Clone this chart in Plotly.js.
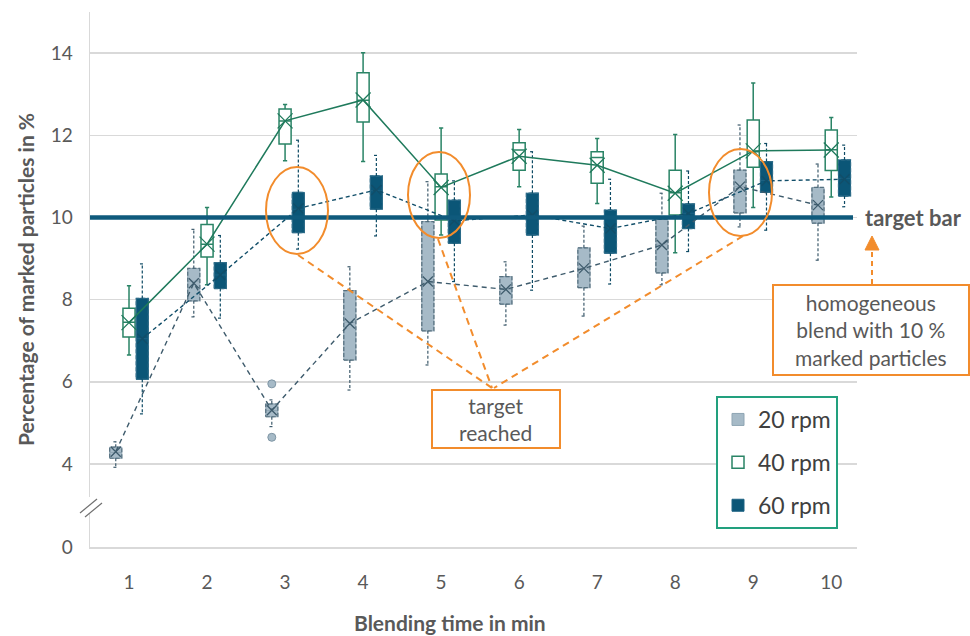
<!DOCTYPE html>
<html>
<head>
<meta charset="utf-8">
<script src="https://cdn.plot.ly/plotly-3.0.1.min.js"></script>
<style>html,body{margin:0;padding:0;background:#fff;}#chart{width:970px;height:636px;}</style>
</head>
<body>
<div id="chart"></div>
<script>
// ---------- data ----------
const times = [1, 2, 3, 4, 5, 6, 7, 8, 9, 10];
const timeLabels = ['1','2','3','4','5','6','7','8','9','10'];
const seriesNames = ['20 rpm', '40 rpm', '60 rpm'];
const TARGET = 10;

// 20 rpm
const lo20   = [3.92, 7.58, 4.91, 5.80, 6.41, 7.38, 7.60, 8.36, 9.77, 8.96];
const q1_20  = [4.14, 7.97, 5.15, 6.53, 7.24, 7.89, 8.29, 8.65, 10.11, 9.86];
const med20  = [4.28, 8.45, 5.30, 7.45, 8.40, 8.25, 8.75, 9.35, 10.75, 10.30];
const q3_20  = [4.41, 8.76, 5.46, 8.22, 9.90, 8.56, 9.26, 9.95, 11.15, 10.73];
const hi20   = [4.54, 9.71, 5.56, 8.80, 10.87, 8.92, 9.79, 10.59, 12.25, 11.30];
const mean20 = [4.30, 8.40, 5.31, 7.42, 8.44, 8.25, 8.76, 9.33, 10.75, 10.30];
const outlierTime20 = [3, 3];
const outlierVal20  = [5.95, 4.65];

// 40 rpm
const lo40   = [6.65, 8.36, 11.38, 11.36, 9.57, 10.75, 10.34, 9.14, 10.24, 10.50];
const q1_40  = [7.09, 9.04, 11.79, 12.32, 9.94, 11.15, 10.83, 10.06, 11.22, 11.14];
const med40  = [7.45, 9.35, 12.35, 12.85, 10.75, 11.64, 11.46, 10.60, 11.60, 11.65];
const q3_40  = [7.79, 9.83, 12.64, 13.52, 11.06, 11.82, 11.60, 11.15, 12.37, 12.13];
const hi40   = [8.34, 10.24, 12.75, 14.01, 12.18, 12.14, 11.92, 12.02, 13.27, 12.43];
const mean40 = [7.44, 9.35, 12.35, 12.86, 10.73, 11.49, 11.27, 10.59, 11.62, 11.64];

// 60 rpm
const lo60   = [5.22, 7.55, 9.23, 9.55, 8.44, 8.23, 8.38, 9.17, 9.69, 10.26];
const q1_60  = [6.06, 8.27, 9.63, 10.20, 9.37, 9.57, 9.13, 9.73, 10.61, 10.52];
const med60  = [7.05, 8.60, 10.20, 10.65, 9.95, 10.05, 9.75, 10.10, 10.90, 10.95];
const q3_60  = [8.03, 8.90, 10.61, 11.01, 10.42, 10.59, 10.18, 10.33, 11.36, 11.40];
const hi60   = [8.87, 9.56, 11.88, 11.51, 10.89, 11.60, 10.93, 11.13, 11.80, 11.76];
const mean60 = [7.05, 8.60, 10.22, 10.67, 9.92, 10.06, 9.73, 10.10, 10.89, 10.93];

// ---------- styles ----------
const FONT = 'Lato, "Open Sans", sans-serif';
const TXT = '#595959';
const C20 = {fill:'#a6bac7', edge:'#56707f', line:'#3e5b6c'};
const C40 = {fill:'#ffffff', edge:'#2a8466', line:'#1f7a5c'};
const C60 = {fill:'#0b5677', edge:'#0b5677', line:'#114e69'};
const ORANGE = '#f28c2c';
const OFF = [-0.17, 0, 0.17];
const BOX_W = 0.155;
const CAP = 0.03;
const Y_BOTTOM = 1.98;

const xs = off => times.map(t => t + off);

function boxTrace(name, off, q1, med, q3, lo, hi, col, lineCol, lw, group, fences) {
  return {
    type:'box', name:name, legendgroup:group,
    x: xs(off), q1:q1, median:med, q3:q3,
    lowerfence: fences ? lo : q1, upperfence: fences ? hi : q3,
    width: BOX_W, whiskerwidth: 0.35,
    fillcolor: col, line:{color:lineCol, width:lw},
    boxpoints:false, hoverinfo:'skip'
  };
}
function whiskerTrace(off, q1, q3, lo, hi, color) {
  const x = [], y = [];
  times.forEach((t, i) => {
    const c = t + off;
    x.push(c, c, null, c, c, null, c - CAP, c + CAP, null, c - CAP, c + CAP, null);
    y.push(q3[i], hi[i], null, q1[i], lo[i], null, hi[i], hi[i], null, lo[i], lo[i], null);
  });
  return {type:'scatter', mode:'lines', x:x, y:y, showlegend:false, hoverinfo:'skip',
          line:{color:color, width:1.2, dash:'3px,2px'}};
}
function outlineTrace(off, q1, q3, color) {
  const x = [], y = [];
  times.forEach((t, i) => {
    const a = t + off - BOX_W / 2, b = t + off + BOX_W / 2;
    x.push(a, b, b, a, a, null);
    y.push(q1[i], q1[i], q3[i], q3[i], q1[i], null);
  });
  return {type:'scatter', mode:'lines', x:x, y:y, showlegend:false, hoverinfo:'skip',
          line:{color:color, width:1.2, dash:'4px,2px'}};
}
function meanTrace(off, mean, color, dash, msize, lw) {
  return {type:'scatter', mode:'lines+markers', x: xs(off), y: mean, showlegend:false, hoverinfo:'skip',
          line:{color:color, width:lw, dash:dash},
          marker:{symbol:'x-thin-open', size:msize, color:color, line:{color:color, width:1.3}}};
}

const data = [
  boxTrace(seriesNames[0], OFF[0], q1_20, med20, q3_20, lo20, hi20, C20.fill, '#8fa5b3', 1, 'a', false),
  boxTrace(seriesNames[1], OFF[1], q1_40, med40, q3_40, lo40, hi40, C40.fill, C40.edge, 1.5, 'b', true),
  boxTrace(seriesNames[2], OFF[2], q1_60, med60, q3_60, lo60, hi60, C60.fill, '#1d6283', 1, 'c', false),
  outlineTrace(OFF[0], q1_20, q3_20, C20.edge),
  outlineTrace(OFF[2], q1_60, q3_60, '#2e6c88'),
  whiskerTrace(OFF[0], q1_20, q3_20, lo20, hi20, C20.line),
  whiskerTrace(OFF[2], q1_60, q3_60, lo60, hi60, '#0d4a64'),
  {type:'scatter', mode:'markers', x: outlierTime20.map(t => t + OFF[0]), y: outlierVal20,
   showlegend:false, hoverinfo:'skip',
   marker:{symbol:'circle', size:8, color:C20.fill, line:{color:'#7f96a5', width:1}}},
  meanTrace(OFF[0], mean20, C20.line, '5px,4px', 10, 1.4),
  meanTrace(OFF[2], mean60, C60.line, '4px,3px', 10, 1.4),
  meanTrace(OFF[1], mean40, C40.line, 'solid', 15, 1.5)
];

// pixel -> paper helpers (plot area: x 90..857, y 12..547)
const PX = px => (px - 90) / 767;
const PY = py => (547 - py) / 535;

const shapes = [
  // target bar
  {type:'line', xref:'paper', yref:'y', x0:0, x1:PX(853), y0:TARGET, y1:TARGET,
   line:{color:'#0f5a7c', width:4.5}, layer:'above'},
  // axis break
  {type:'rect', xref:'paper', yref:'paper', x0:PX(86), x1:PX(94), y0:PY(514), y1:PY(497),
   fillcolor:'#ffffff', line:{width:0}, layer:'above'},
  {type:'line', xref:'paper', yref:'paper', x0:PX(80), y0:PY(513), x1:PX(97), y1:PY(499),
   line:{color:'#6f6f6f', width:1.2}, layer:'above'},
  {type:'line', xref:'paper', yref:'paper', x0:PX(85), y0:PY(517), x1:PX(102), y1:PY(503),
   line:{color:'#6f6f6f', width:1.2}, layer:'above'},
  // ellipses
  {type:'circle', xref:'paper', yref:'paper', x0:PX(266), x1:PX(328), y0:PY(254), y1:PY(167),
   line:{color:ORANGE, width:2}, layer:'above'},
  {type:'circle', xref:'paper', yref:'paper', x0:PX(408), x1:PX(470), y0:PY(238), y1:PY(152),
   line:{color:ORANGE, width:2}, layer:'above'},
  {type:'circle', xref:'paper', yref:'paper', x0:PX(709), x1:PX(772), y0:PY(236), y1:PY(149),
   line:{color:ORANGE, width:2}, layer:'above'},
  // dashed pointer lines
  {type:'line', xref:'paper', yref:'paper', x0:PX(298), y0:PY(255), x1:PX(492), y1:PY(388),
   line:{color:ORANGE, width:2, dash:'7px,5px'}, layer:'above'},
  {type:'line', xref:'paper', yref:'paper', x0:PX(438), y0:PY(239), x1:PX(492), y1:PY(388),
   line:{color:ORANGE, width:2, dash:'7px,5px'}, layer:'above'},
  {type:'line', xref:'paper', yref:'paper', x0:PX(743), y0:PY(236), x1:PX(494), y1:PY(388),
   line:{color:ORANGE, width:2, dash:'7px,5px'}, layer:'above'},
  // target reached box
  {type:'rect', xref:'paper', yref:'paper', x0:PX(432), x1:PX(560), y0:PY(448), y1:PY(390),
   fillcolor:'#ffffff', line:{color:ORANGE, width:2}, layer:'above'},
  // homogeneous blend box
  {type:'rect', xref:'paper', yref:'paper', x0:PX(773), x1:PX(969), y0:PY(375), y1:PY(285),
   fillcolor:'#ffffff', line:{color:ORANGE, width:2}, layer:'above'},
  // arrow to target bar
  {type:'line', xref:'paper', yref:'paper', x0:PX(872), y0:PY(284), x1:PX(872), y1:PY(249),
   line:{color:ORANGE, width:2, dash:'5px,4px'}, layer:'above'},
  {type:'path', xref:'paper', yref:'paper',
   path:'M ' + PX(865) + ' ' + PY(250) + ' L ' + PX(879) + ' ' + PY(250) + ' L ' + PX(872) + ' ' + PY(236) + ' Z',
   fillcolor:ORANGE, line:{color:ORANGE, width:1}, layer:'above'}
];

const annotations = [
  {xref:'paper', yref:'y', x:PX(863), y:TARGET, xanchor:'left', yanchor:'middle', showarrow:false,
   text:'<b>target bar</b>', font:{family:FONT, size:22, color:TXT}},
  {xref:'paper', yref:'paper', x:PX(496), y:PY(419), xanchor:'center', yanchor:'middle', showarrow:false,
   text:'target<br>reached', font:{family:FONT, size:21, color:TXT}},
  {xref:'paper', yref:'paper', x:PX(871), y:PY(330), xanchor:'center', yanchor:'middle', showarrow:false,
   text:'homogeneous<br>blend with 10 %<br>marked particles', font:{family:FONT, size:21, color:TXT}},
  {xref:'paper', yref:'paper', x:PX(450), y:PY(622), xanchor:'center', yanchor:'middle', showarrow:false,
   text:'<b>Blending time in min</b>', font:{family:FONT, size:21, color:TXT}}
];

const layout = {
  width:970, height:636,
  margin:{l:90, r:113, t:12, b:89},
  paper_bgcolor:'#ffffff', plot_bgcolor:'#ffffff',
  font:{family:FONT, color:TXT},
  boxmode:'overlay',
  showlegend:true,
  legend:{x:PX(716), y:PY(396), xanchor:'left', yanchor:'top',
          bordercolor:'#22a07e', borderwidth:2, bgcolor:'#ffffff',
          font:{family:FONT, size:23, color:'#404040'},
          traceorder:'grouped', tracegroupgap:10, itemwidth:30},
  xaxis:{range:[0.5, 10.33], tickvals:times, ticktext:timeLabels, showgrid:false, zeroline:false,
         showline:true, linecolor:'#d9d9d9', linewidth:1.5, ticks:'',
         tickfont:{family:FONT, size:19, color:TXT}, ticklabelstandoff:18},
  yaxis:{range:[Y_BOTTOM, 15.0],
         tickvals:[Y_BOTTOM, 4, 6, 8, 10, 12, 14], ticktext:['0','4','6','8','10','12','14'],
         showgrid:true, gridcolor:'#d9d9d9', gridwidth:1.5, zeroline:false,
         showline:true, linecolor:'#d9d9d9', linewidth:1.5, ticks:'',
         tickfont:{family:FONT, size:19, color:TXT}, ticklabelstandoff:12,
         title:{text:'<b>Percentage of marked particles in %</b>', font:{family:FONT, size:21, color:TXT}, standoff:10}},
  shapes:shapes,
  annotations:annotations
};

Plotly.newPlot('chart', data, layout, {displayModeBar:false, staticPlot:true});
</script>
</body>
</html>
